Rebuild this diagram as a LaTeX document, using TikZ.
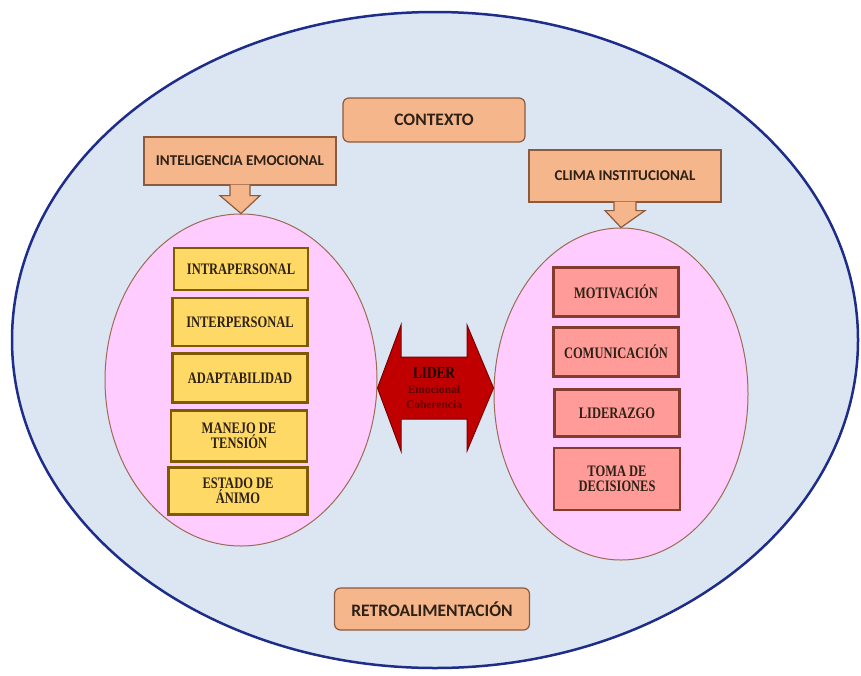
\documentclass[tikz,border=0pt]{standalone}
\usepackage{fontspec}
\usepackage{tikz}
\usetikzlibrary{arrows,shapes,calc}
\newfontfamily\titlefont{Carlito}
\newfontfamily\boxfont[FakeStretch=0.78]{Liberation Serif}
\newfontfamily\smallfont{Liberation Serif}
\definecolor{fondo}{HTML}{DCE6F2}
\definecolor{bordeazul}{HTML}{1F2D8A}
\definecolor{naranja}{HTML}{F6B68C}
\definecolor{bordenar}{HTML}{8C5A3C}
\definecolor{rosa}{HTML}{FFCCFF}
\definecolor{borderosa}{HTML}{9C6B55}
\definecolor{amarillo}{HTML}{FFD966}
\definecolor{bordeam}{HTML}{7F5A00}
\definecolor{salmon}{HTML}{FF9B98}
\definecolor{bordesal}{HTML}{843C30}
\definecolor{rojo}{HTML}{C00000}
\definecolor{bordero}{HTML}{7A0000}
\definecolor{texto}{HTML}{2E2116}
\tikzstyle{orangebox}=[rectangle,draw=bordenar,fill=naranja,line width=1.2pt,inner sep=0pt,text=texto,font=\titlefont\bfseries\fontsize{17.5}{19}\selectfont]
\tikzstyle{sidehead}=[orangebox,font=\titlefont\bfseries\fontsize{15}{17}\selectfont]
\tikzstyle{yellowbox}=[rectangle,draw=bordeam,fill=amarillo,line width=2.5pt,inner sep=0pt,align=center,text=texto,font=\boxfont\bfseries\fontsize{16}{15.5}\selectfont]
\tikzstyle{salmonbox}=[yellowbox,draw=bordesal,fill=salmon]
\tikzstyle{group}=[ellipse,draw=borderosa,fill=rosa,line width=1pt,inner sep=0pt]
\tikzstyle{blockarrow}=[draw=bordenar,fill=naranja,line width=1.2pt,line join=miter]
\tikzstyle{dblarrow}=[draw=bordero,fill=rojo,line width=1pt,line join=miter]

\begin{document}
\begin{tikzpicture}[x=1pt,y=-1pt]
    \useasboundingbox (0,0) rectangle (861,675);
    % The context around everything
    \draw[fill=fondo,draw=bordeazul,line width=2.5pt] (435,340) ellipse (423 and 328);

    % The two groups
    \node[group,minimum width=272,minimum height=332] (izq) at (241,380) {};
    \node[group,minimum width=254,minimum height=332] (der) at (621,394) {};

    % Headings
    \node[orangebox,rounded corners=6pt,minimum width=182,minimum height=44] (contexto) at (434,120) {CONTEXTO};
    \node[sidehead,minimum width=192,minimum height=48] (ie) at (240,161) {INTELIGENCIA EMOCIONAL};
    \node[sidehead,minimum width=192,minimum height=52] (ci) at (625,176) {CLIMA INSTITUCIONAL};
    \node[orangebox,rounded corners=6pt,minimum width=195,minimum height=42] (retro) at (432,609) {RETROALIMENTACIÓN};

    % Arrows from the headings down to the groups
    \path[blockarrow] ($(ie.south)+(-10,-1)$) -- ++(0,11) -- ++(-10,0) -- (izq.north) -- ($(ie.south)+(20,10)$) -- ++(-10,0) -- ++(0,-11);
    \path[blockarrow] ($(ci.south)+(-11,-1)$) -- ++(0,9) -- ++(-9,0) -- (der.north) -- ($(ci.south)+(20,8)$) -- ++(-9,0) -- ++(0,-9);

    % Boxes inside the left group
    \foreach \pos/\name/\txt/\w/\h in {{(241,269)/intra/INTRAPERSONAL/134/42}, {(240,322)/inter/INTERPERSONAL/135/48},
        {(240,378)/adap/ADAPTABILIDAD/135/49}, {(239,436)/manejo/{MANEJO DE\\TENSIÓN}/136/51}, {(238,491)/estado/{ESTADO DE\\ÁNIMO}/139/47}}
        \node[yellowbox,minimum width=\w,minimum height=\h] (\name) at \pos {\txt};

    % Boxes inside the right group
    \foreach \pos/\name/\txt/\w/\h in {{(616,292)/motiv/MOTIVACIÓN/125/49}, {(616,352)/comun/COMUNICACIÓN/125/49},
        {(617,413)/lidz/LIDERAZGO/125/47}, {(617,479)/toma/{TOMA DE\\DECISIONES}/126/62}}
        \node[salmonbox,minimum width=\w,minimum height=\h] (\name) at \pos {\txt};

    % The leader in the middle, pointing both ways
    \coordinate (lc) at (434,388);
    \path[dblarrow] (izq.east |- lc) -- ($(lc)+(-33,-63)$) -- ($(lc)+(-33,-31)$) -- ($(lc)+(33,-31)$) -- ($(lc)+(33,-63)$)
        -- (der.west |- lc) -- ($(lc)+(33,63)$) -- ($(lc)+(33,31)$) -- ($(lc)+(-33,31)$) -- ($(lc)+(-33,63)$) -- cycle;
    \node[align=center,inner sep=0pt,text=bordero!75!black,font=\smallfont\bfseries\fontsize{11.5}{15}\selectfont] (lider) at (lc)
        {{\boxfont\bfseries\fontsize{17}{17}\selectfont\color{black!80!bordero}LIDER}\\ Emocional\\ Coherencia};
\end{tikzpicture}
\end{document}
